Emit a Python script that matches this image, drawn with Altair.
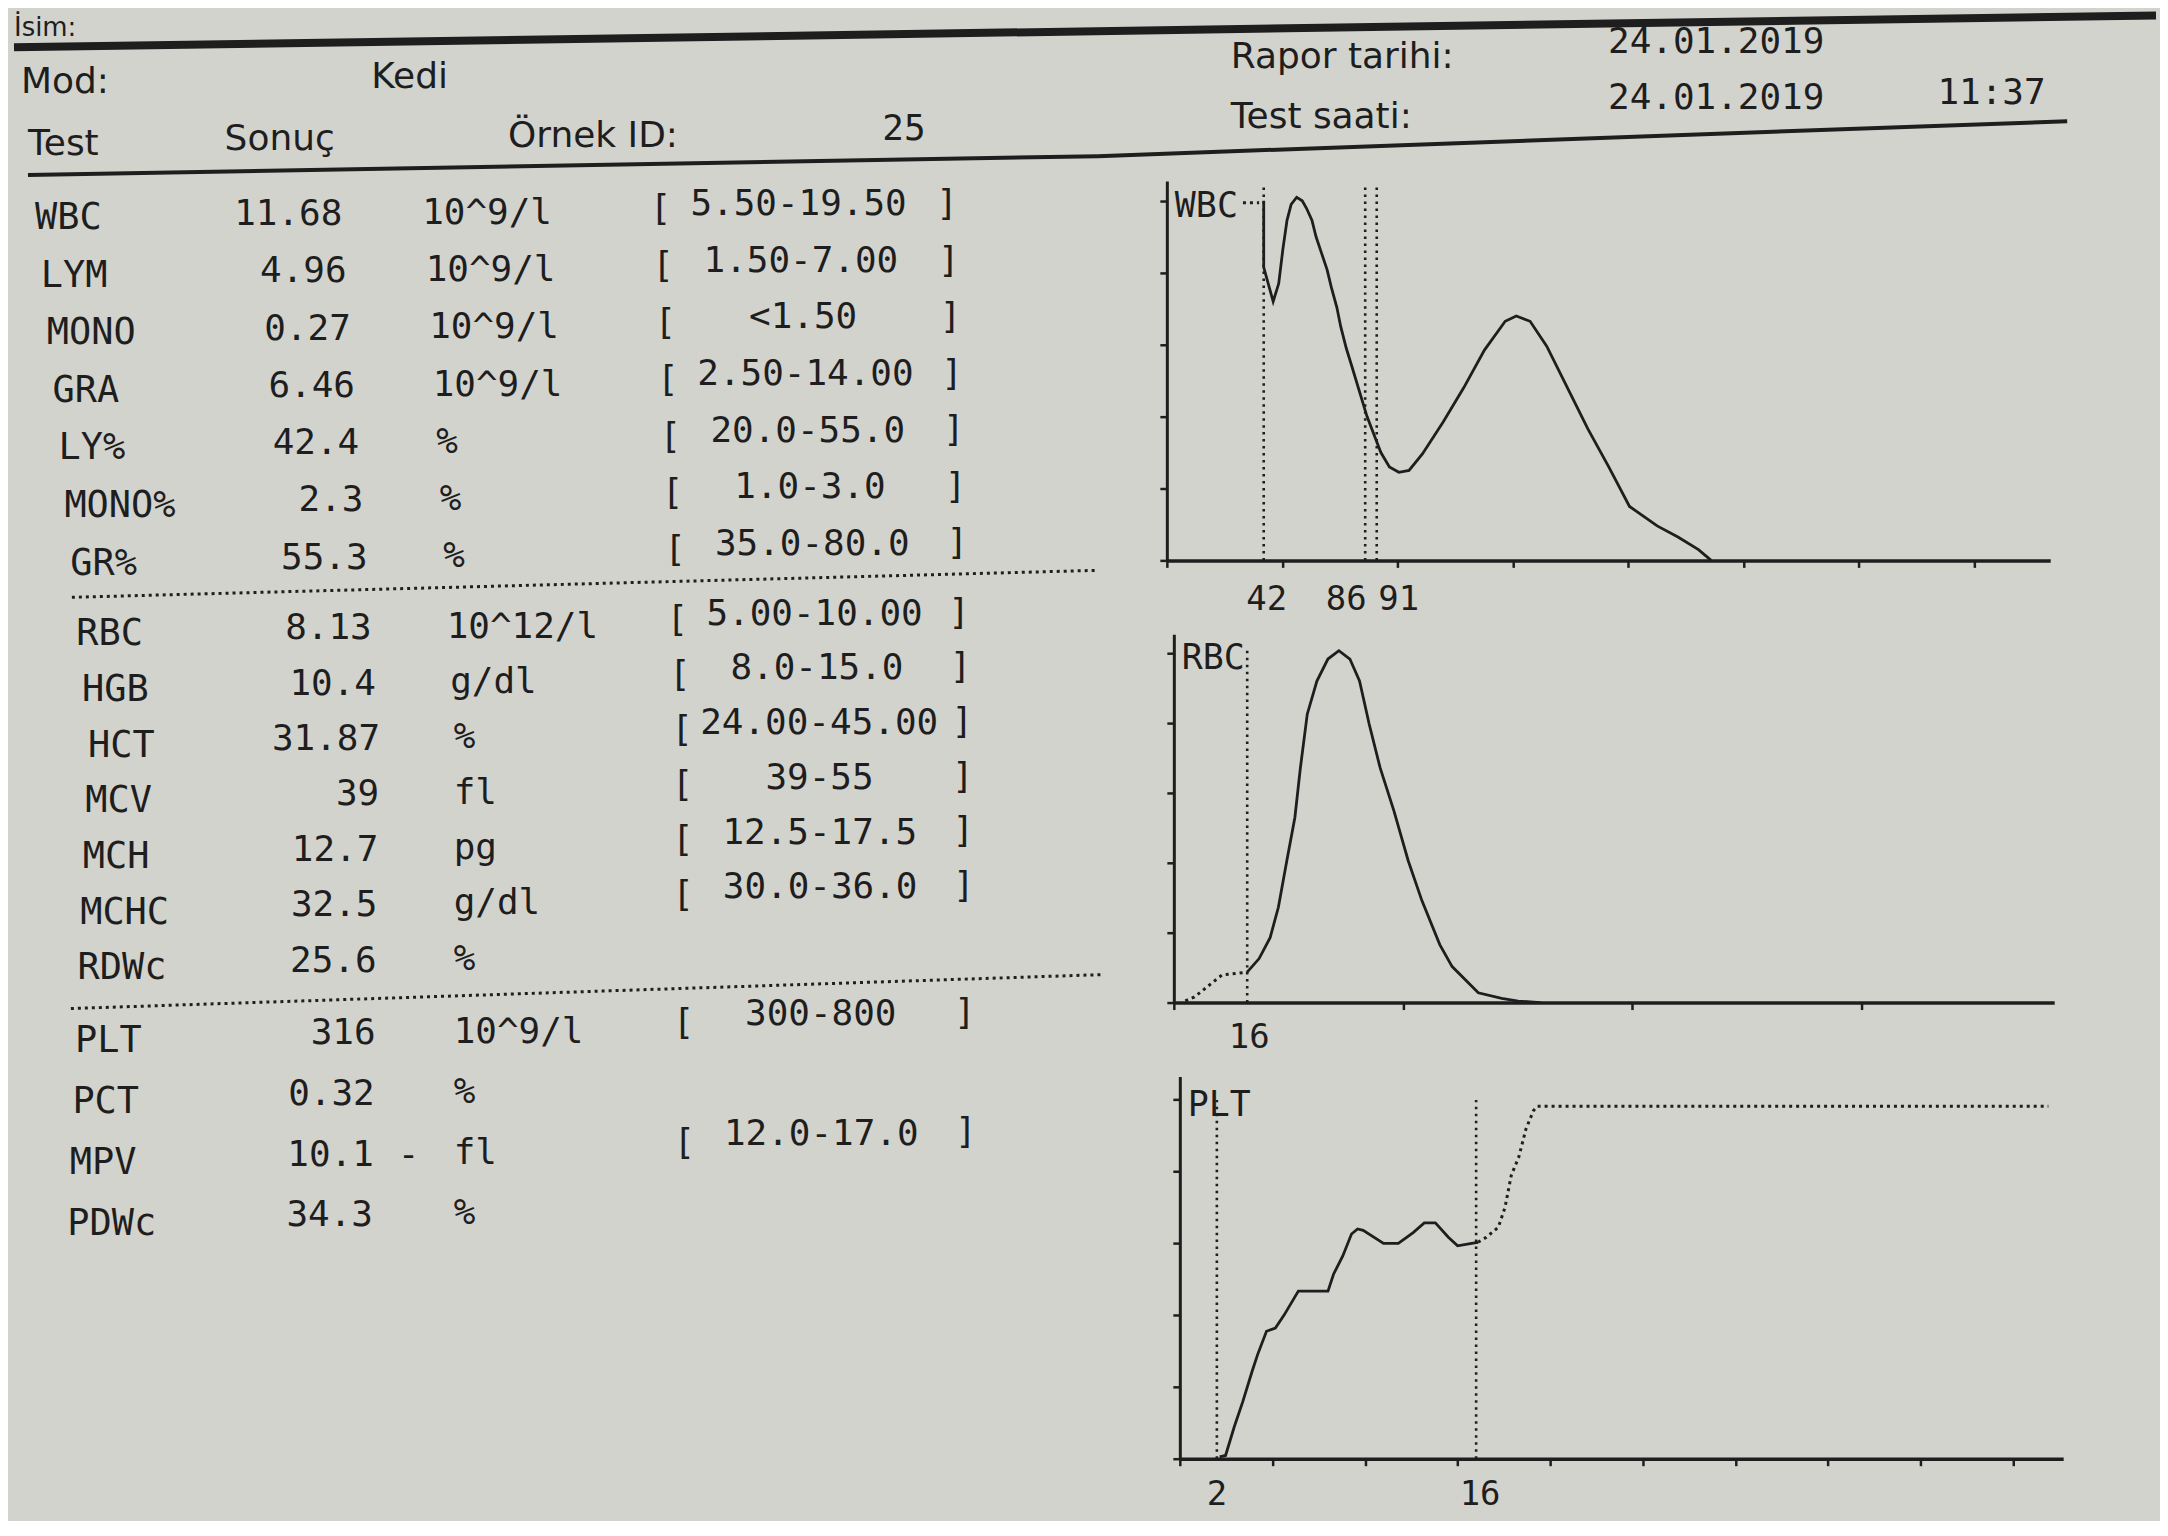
import altair as alt
import pandas as pd

# ---------------- data ----------------
HEADER_LABELS = ["İsim:", "Mod:", "Rapor tarihi:", "Test saati:", "Test", "Sonuç", "Örnek ID:"]
HEADER_VALUES = ["Kedi", "24.01.2019", "24.01.2019", "11:37", "25"]

TESTS = ["WBC", "LYM", "MONO", "GRA", "LY%", "MONO%", "GR%",
         "RBC", "HGB", "HCT", "MCV", "MCH", "MCHC", "RDWc",
         "PLT", "PCT", "MPV", "PDWc"]
RESULTS = ["11.68", "4.96", "0.27", "6.46", "42.4", "2.3", "55.3",
           "8.13", "10.4", "31.87", "39", "12.7", "32.5", "25.6",
           "316", "0.32", "10.1", "34.3"]
FLAGS = ["", "", "", "", "", "", "", "", "", "", "", "", "", "", "", "", "-", ""]
UNITS = ["10^9/l", "10^9/l", "10^9/l", "10^9/l", "%", "%", "%",
         "10^12/l", "g/dl", "%", "fl", "pg", "g/dl", "%",
         "10^9/l", "%", "fl", "%"]
REF_RANGES = ["5.50-19.50", "1.50-7.00", "<1.50", "2.50-14.00", "20.0-55.0", "1.0-3.0", "35.0-80.0",
              "5.00-10.00", "8.0-15.0", "24.00-45.00", "39-55", "12.5-17.5", "30.0-36.0", "",
              "300-800", "", "12.0-17.0", ""]
GROUPS = [0, 0, 0, 0, 0, 0, 0, 1, 1, 1, 1, 1, 1, 1, 2, 2, 2, 2]

# WBC histogram
WBC_X = [42, 42, 46.1, 48.5, 50.3, 52.1, 53.9, 56.3, 58.7, 60.5, 62.9, 64.7, 67.1, 69.5,
         71.3, 73.7, 75.4, 77.8, 80.2, 86.8, 92.8, 96.5, 100.6, 105.0, 110.8, 119.8, 128.7,
         137.7, 146.7, 151.5, 157.5, 164.7, 173.7, 182.6, 191.6, 200.6, 212.6, 221.6, 230.5, 236]
WBC_Y = [10.0, 8.15, 7.2, 7.7, 8.65, 9.46, 9.9, 10.1, 10.0, 9.8, 9.46, 9.0, 8.54, 8.08,
         7.6, 7.04, 6.5, 5.9, 5.4, 4.0, 3.0, 2.6, 2.45, 2.5, 2.96, 3.85, 4.8,
         5.85, 6.65, 6.8, 6.65, 5.96, 4.8, 3.65, 2.6, 1.5, 0.96, 0.65, 0.3, 0.0]
WBC_DOT_X = [33, 40]
WBC_DOT_Y = [9.95, 9.95]
WBC_THRESHOLDS = [42, 86, 91]
WBC_LABELS = ["42", "86", "91"]

# RBC histogram
RBC_X = [16, 18.6, 21.0, 22.8, 24.6, 26.4, 27.6, 29.1, 31.2, 33.6, 36.0, 38.4, 40.5, 42.6,
         45.0, 48.0, 51.1, 54.1, 58.0, 60.7, 66.4, 71.5, 75.1, 80]
RBC_Y = [0.87, 1.26, 1.86, 2.73, 4.03, 5.30, 6.72, 8.26, 9.21, 9.84, 10.08, 9.84, 9.21, 7.98,
         6.72, 5.49, 4.07, 2.92, 1.66, 1.03, 0.28, 0.12, 0.04, 0.0]
RBC_DOT_X = [2.5, 4.5, 10.5, 16]
RBC_DOT_Y = [0.05, 0.16, 0.79, 0.87]
RBC_THRESHOLDS = [16]
RBC_LABELS = ["16"]

# PLT histogram
PLT_X = [2.15, 2.47, 2.94, 3.4, 3.9, 4.2, 4.68, 5.16, 5.63, 6.4, 8.0, 8.3, 8.8, 9.27, 9.6,
         9.9, 11.0, 11.8, 12.6, 13.2, 13.8, 14.5, 15.0, 15.76, 16.1]
PLT_Y = [0.05, 0.09, 0.89, 1.59, 2.43, 2.9, 3.55, 3.64, 4.0, 4.67, 4.67, 5.14, 5.65, 6.26, 6.4,
         6.36, 6.0, 6.0, 6.3, 6.57, 6.57, 6.17, 5.93, 6.0, 6.03]
PLT_DOT_X = [16.1, 16.55, 17.2, 17.56, 17.9, 18.3, 18.7, 19.1, 19.3, 46.9]
PLT_DOT_Y = [6.03, 6.17, 6.45, 7.0, 7.9, 8.4, 9.2, 9.7, 9.82, 9.82]
PLT_THRESHOLDS = [2, 16]
PLT_LABELS = ["2", "16"]

# ---------------- styling ----------------
INK = "#1e1e1e"
BG = "#d3d3ce"
MONO = "DejaVu Sans Mono"
SANS = "DejaVu Sans"
one = pd.DataFrame({"d": [0]})


def htext(txt, x, y, font, size):
    return alt.Chart(one).mark_text(
        align="left", baseline="middle", font=font, fontSize=size, color=INK
    ).encode(x=alt.value(x), y=alt.value(y), text=alt.value(txt))


def hrule(x1, y1, x2, y2, w, dash=None):
    kw = dict(color=INK, strokeWidth=w)
    if dash:
        kw["strokeDash"] = dash
    return alt.Chart(one).mark_rule(**kw).encode(
        x=alt.value(x1), y=alt.value(y1), x2=alt.value(x2), y2=alt.value(y2)
    )


# ---------------- header ----------------
header = alt.layer(
    htext(HEADER_LABELS[0], 6, 19, SANS, 26),
    htext(HEADER_LABELS[1], 13, 73, SANS, 36),
    htext(HEADER_VALUES[0], 364, 68, SANS, 36),
    htext(HEADER_LABELS[2], 1225, 48, SANS, 36),
    htext(HEADER_VALUES[1], 1603, 33, MONO, 36),
    htext(HEADER_LABELS[3], 1225, 108, SANS, 36),
    htext(HEADER_VALUES[2], 1603, 89, MONO, 36),
    htext(HEADER_VALUES[3], 1933, 84, MONO, 36),
    htext(HEADER_LABELS[4], 20, 135, SANS, 36),
    htext(HEADER_LABELS[5], 217, 130, SANS, 36),
    htext(HEADER_LABELS[6], 501, 127, SANS, 36),
    htext(HEADER_VALUES[4], 876, 120, MONO, 36),
    hrule(6, 38, 2152, 6, 8),
    hrule(20, 166, 1092, 147, 4),
    hrule(1092, 147, 2063, 112, 4),
).properties(width=2152, height=150)

# ---------------- result table ----------------
tdf = pd.DataFrame({
    "test": TESTS, "result": RESULTS, "flag": FLAGS, "unit": UNITS,
    "ref": REF_RANGES, "g": GROUPS, "i": list(range(len(TESTS))),
})
ROWY = ("datum.g == 0 ? 37 + 57.7 * datum.i : "
        "(datum.g == 1 ? 454 + 55.8 * (datum.i - 7) : 862 + 61 * (datum.i - 14))")


def col(text_enc, base, sb, sa, t0, t1, align, size=36, dx=0, filt=None):
    xexpr = f"{base - 8} + {sb} * min(datum.i, 9) + {sa} * max(datum.i - 9, 0)"
    yexpr = f"datum.rowy + {t0} + ({t1 - t0}) * datum.i / 17"
    ch = alt.Chart(tdf).transform_calculate(rowy=ROWY).transform_calculate(px=xexpr).transform_calculate(py=yexpr)
    if filt:
        ch = ch.transform_filter(filt)
    return ch.mark_text(
        align=align, baseline="middle", font=MONO, fontSize=size, color=INK, dx=dx
    ).encode(
        x=alt.X("px:Q", scale=None, axis=None),
        y=alt.Y("py:Q", scale=None, axis=None),
        text=text_enc,
    )


table = alt.layer(
    col("test:N", 35, 5.9, -2.6, 0, 0, "left", size=37),
    col("result:N", 343, 4.2, -0.9, -4, -9, "right"),
    col("flag:N", 343, 4.2, -0.9, -4, -9, "left", dx=24, filt="datum.flag != ''"),
    col("unit:N", 423, 3.5, 0, -5, -11, "left"),
    col(alt.value("["), 651, 2.4, 0.3, -9, -21, "left", filt="datum.ref != ''"),
    col("ref:N", 800, 2.3, 0.3, -14, -30, "center"),
    col(alt.value("]"), 938, 1.7, 0.5, -14, -32, "left", filt="datum.ref != ''"),
    hrule(64, 417, 1091, 390, 3, dash=[3, 4]),
    hrule(63, 829, 1096, 795, 3, dash=[3, 4]),
).properties(width=1100, height=1100)


# ---------------- histograms ----------------
def histogram(name, sx, sy, dxs, dys, thr, thr_labels, thr_dx, xmax, ymax, xticks,
              w, h, name_y, thr_top, lab_y, off):
    xs = alt.Scale(domain=[0, xmax], nice=False, zero=False, range=[off, off + w])
    ys = alt.Scale(domain=[0, ymax], nice=False, zero=False)
    xax = alt.Axis(values=xticks, labels=False, title=None, grid=False, tickSize=7,
                   tickWidth=2.5, tickColor=INK, domainWidth=3.5, domainColor=INK)
    yax = alt.Axis(values=list(range(11)), labels=False, title=None, grid=False, tickSize=7,
                   tickWidth=2.5, tickColor=INK, domainWidth=3, domainColor=INK, offset=-off)
    solid = pd.DataFrame({"x": sx, "y": sy, "o": list(range(len(sx)))})
    dots = pd.DataFrame({"x": dxs, "y": dys, "o": list(range(len(dxs)))})
    thr_df = pd.DataFrame({"x": thr, "lab": thr_labels})
    X = alt.X("x:Q", scale=xs, axis=xax)
    Y = alt.Y("y:Q", scale=ys, axis=yax)
    layers = [
        alt.Chart(solid).mark_line(color=INK, strokeWidth=2.8).encode(x=X, y=Y, order="o:Q"),
        alt.Chart(dots).mark_line(color=INK, strokeWidth=3, strokeDash=[3, 4]).encode(x=X, y=Y, order="o:Q"),
        alt.Chart(thr_df).mark_rule(color=INK, strokeWidth=2.6, strokeDash=[2.5, 4.5]).encode(
            x=X, y=alt.datum(0), y2=alt.datum(thr_top)),
        alt.Chart(one).mark_text(align="left", baseline="middle", font=MONO, fontSize=35,
                                 color=INK).encode(x=alt.value(8 + off), y=alt.value(name_y),
                                                   text=alt.value(name)),
    ]
    for k, ddx in enumerate(thr_dx):
        layers.append(
            alt.Chart(thr_df.iloc[[k]]).mark_text(
                align="center", baseline="middle", font=MONO, fontSize=34, color=INK, dx=ddx
            ).encode(x=X, y=alt.value(h + lab_y), text="lab:N")
        )
    return alt.layer(*layers).properties(width=w + off, height=h)


wbc = histogram("WBC", WBC_X, WBC_Y, WBC_DOT_X, WBC_DOT_Y, WBC_THRESHOLDS, WBC_LABELS,
                [3, -19, 22], 383, 10.55, [0, 50, 100, 150, 200, 250, 300, 350],
                885, 380, 25, 10.4, 40, 0)
rbc = histogram("RBC", RBC_X, RBC_Y, RBC_DOT_X, RBC_DOT_Y, RBC_THRESHOLDS, RBC_LABELS,
                [2], 192, 10.55, [0, 50, 100, 150],
                882, 369, 24, 10.16, 36, 7)
plt_h = histogram("PLT", PLT_X, PLT_Y, PLT_DOT_X, PLT_DOT_Y, PLT_THRESHOLDS, PLT_LABELS,
                  [0, 4], 47.7, 10.65, [0, 5, 10, 15, 20, 25, 30, 35, 40, 45],
                  885, 383, 29, 10.1, 36, 13)

right = alt.vconcat(wbc, rbc, plt_h, spacing=74, bounds="flush")
body = alt.hconcat(table, right, spacing=61, bounds="flush")

chart = alt.vconcat(header, body, spacing=22, bounds="flush").properties(
    background=BG,
    padding={"left": 0, "top": 0, "right": 0, "bottom": 8},
).configure_view(stroke=None)

chart.save("out.html", embed_options={"renderer": "svg", "actions": False})
